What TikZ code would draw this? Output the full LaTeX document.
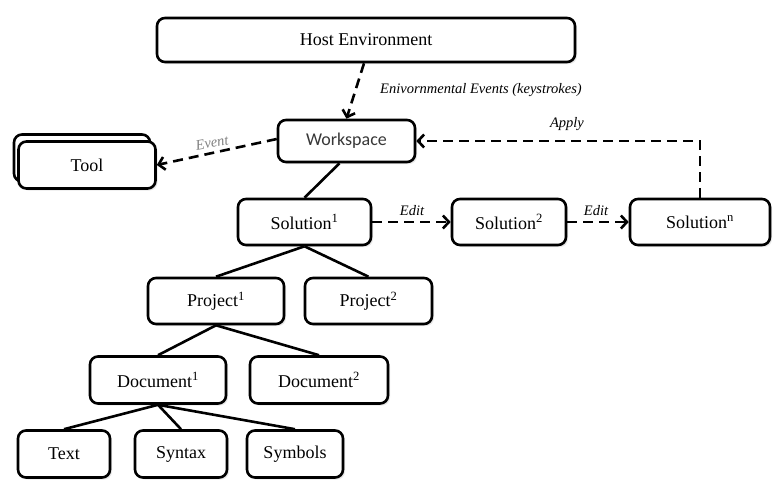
\documentclass[tikz,border=0pt]{standalone}
\usepackage{fontspec}
\setmainfont{Liberation Serif}
\newfontfamily\wsfont{Carlito}
\usetikzlibrary{arrows.meta,shadows}
\begin{document}
\begin{tikzpicture}[x=1pt,y=-1pt,
  box/.style={draw=black, line width=2.6pt, rounded corners=8pt, fill=white, inner sep=0pt,
    font=\fontsize{18}{20}\selectfont, drop shadow={opacity=0.18, shadow xshift=2pt, shadow yshift=-2pt}},
  tree/.style={line width=2.6pt},
  dsh/.style={line width=2.6pt, dash pattern=on 10pt off 6pt, -{Straight Barb[length=6pt,width=13pt,line width=2.6pt]}},
  lbl/.style={font=\fontsize{14.5}{16}\selectfont\itshape}]
\path[use as bounding box, fill=white] (0,0) rectangle (776,490);

\node[box, minimum width=418pt, minimum height=44pt] (host) at (366,40) {Host Environment};
\node[box, minimum width=137pt, minimum height=42pt, font=\fontsize{18}{20}\selectfont\wsfont, text=black!78] (ws) at (346.5,141) {Workspace};
\node[box, minimum width=136pt, minimum height=47pt] (toolb) at (82,158) {};
\node[box, minimum width=137pt, minimum height=47pt] (tool) at (87,165) {Tool};
\node[box, minimum width=133pt, minimum height=46pt] (sol1) at (304.5,222) {Solution\textsuperscript{1}};
\node[box, minimum width=114pt, minimum height=46pt] (sol2) at (509,222) {Solution\textsuperscript{2}};
\node[box, minimum width=140pt, minimum height=46pt] (soln) at (700,222) {Solution\textsuperscript{n}};
\node[box, minimum width=136pt, minimum height=46pt] (proj1) at (216,301) {Project\textsuperscript{1}};
\node[box, minimum width=127pt, minimum height=46pt] (proj2) at (368.5,301) {Project\textsuperscript{2}};
\node[box, minimum width=136pt, minimum height=47pt] (doc1) at (158,380) {Document\textsuperscript{1}};
\node[box, minimum width=138pt, minimum height=47pt] (doc2) at (319,380) {Document\textsuperscript{2}};
\node[box, minimum width=92pt, minimum height=47pt] (text) at (64,454) {Text};
\node[box, minimum width=92pt, minimum height=47pt] (syn) at (181,454) {Syntax};
\node[box, minimum width=96pt, minimum height=47pt] (sym) at (295,454) {Symbols};

% tree lines
\draw[tree] ([xshift=-7pt]ws.south) -- (sol1.north);
\draw[tree] (sol1.south) -- (proj1.north);
\draw[tree] (sol1.south) -- (proj2.north);
\draw[tree] (proj1.south) -- (doc1.north);
\draw[tree] (proj1.south) -- (doc2.north);
\draw[tree] (doc1.south) -- (text.north);
\draw[tree] (doc1.south) -- (syn.north);
\draw[tree] (doc1.south) -- (sym.north);

% dashed arrows
\draw[dsh] ([xshift=-2pt]host.south) -- (ws.north);
\draw[dsh] ([yshift=2pt]ws.west) -- (tool.east);
\draw[dsh] (sol1.east) -- (sol2.west);
\draw[dsh] (sol2.east) -- (soln.west);
\draw[dsh] (soln.north) |- (ws.east);

% labels
\node[lbl] (l1) at (481,90) {Enivornmental Events (keystrokes)};
\node[lbl, text=gray, rotate=10] (l2) at (212,143) {Event};
\node[lbl] (l3) at (412,211) {Edit};
\node[lbl] (l4) at (596,211) {Edit};
\node[lbl] (l5) at (567,124) {Apply};
\end{tikzpicture}
\end{document}
